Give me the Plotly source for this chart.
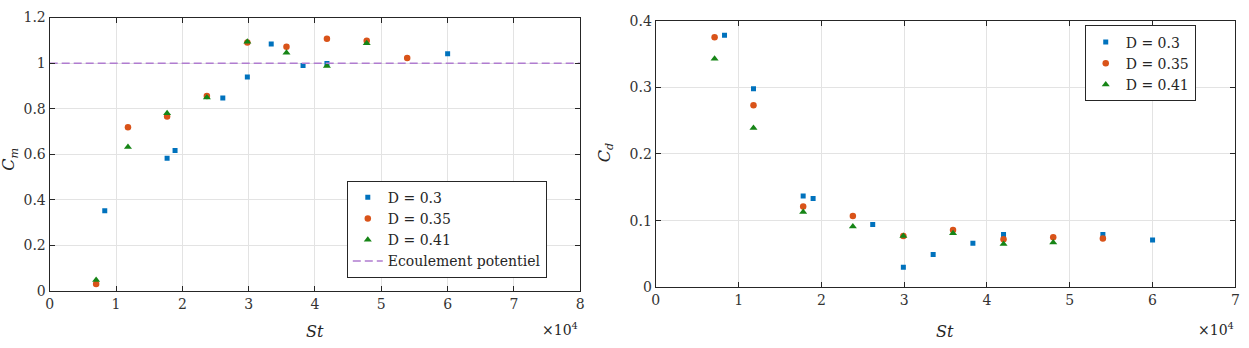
import plotly.graph_objects as go

# ---------------- data ----------------
# St values (real units), scaled by 1e4 on the axes
st_cm_d030 = [8300, 17700, 18900, 26100, 29800, 33400, 38200, 41800, 60000]
cm_d030 = [0.352, 0.583, 0.617, 0.847, 0.939, 1.084, 0.990, 0.998, 1.041]
st_cm_d035 = [7000, 11800, 17700, 23700, 29800, 35700, 41800, 47800, 53900]
cm_d035 = [0.031, 0.719, 0.766, 0.856, 1.091, 1.072, 1.107, 1.098, 1.023]
st_cm_d041 = [7000, 11800, 17700, 23700, 29800, 35700, 41800, 47800]
cm_d041 = [0.049, 0.632, 0.780, 0.849, 1.094, 1.046, 0.987, 1.087]
st_potentiel = [0, 80000]
cm_potentiel = [1, 1]

st_cd_d030 = [8300, 11800, 17800, 19000, 26200, 29900, 33500, 38300, 42000, 54000, 60000]
cd_d030 = [0.378, 0.298, 0.137, 0.133, 0.094, 0.030, 0.049, 0.066, 0.079, 0.079, 0.071]
st_cd_d035 = [7100, 11800, 17800, 23800, 29900, 35900, 42000, 48000, 54000]
cd_d035 = [0.375, 0.273, 0.121, 0.107, 0.077, 0.086, 0.072, 0.075, 0.073]
st_cd_d041 = [7100, 11800, 17800, 23800, 29900, 35900, 42000, 48000]
cd_d041 = [0.343, 0.239, 0.113, 0.091, 0.077, 0.081, 0.065, 0.067]

series_names = ["D = 0.3", "D = 0.35", "D = 0.41"]
line_name = "Ecoulement potentiel"
x_ticks_left = [0, 1, 2, 3, 4, 5, 6, 7, 8]
x_ticks_right = [0, 1, 2, 3, 4, 5, 6, 7]
y_ticks_left = [0, 0.2, 0.4, 0.6, 0.8, 1, 1.2]
y_ticks_right = [0, 0.1, 0.2, 0.3, 0.4]

# ---------------- style ----------------
W, H = 1249, 348
BLUE = "#0072BD"
ORANGE = "#D95319"
GREEN = "#168516"
PURPLE = "#B07CD0"
AX = "#262626"
GRID = "#E3E3E3"
FONT = "DejaVu Serif"

markers = [
    dict(symbol="square", size=5, color=BLUE),
    dict(symbol="circle", size=6.5, color=ORANGE),
    dict(symbol="triangle-up", size=7, color=GREEN),
]

fig = go.Figure()

left = [(st_cm_d030, cm_d030), (st_cm_d035, cm_d035), (st_cm_d041, cm_d041)]
for (xs, ys), name, mk in zip(left, series_names, markers):
    fig.add_trace(go.Scatter(x=xs, y=ys, mode="markers", name=name, marker=mk,
                             xaxis="x", yaxis="y", legend="legend"))
fig.add_trace(go.Scatter(x=st_potentiel, y=cm_potentiel, mode="lines", name=line_name,
                         line=dict(color=PURPLE, width=1.5, dash="8px,4px"),
                         xaxis="x", yaxis="y", legend="legend"))

right = [(st_cd_d030, cd_d030), (st_cd_d035, cd_d035), (st_cd_d041, cd_d041)]
for (xs, ys), name, mk in zip(right, series_names, markers):
    fig.add_trace(go.Scatter(x=xs, y=ys, mode="markers", name=name, marker=mk,
                             xaxis="x2", yaxis="y2", legend="legend2"))


def fmt(v):
    return "%g" % v


axis_common = dict(
    showline=True, linecolor=AX, linewidth=1.3, mirror="ticks",
    ticks="inside", ticklen=5, tickcolor=AX, tickwidth=1.2,
    showgrid=True, gridcolor=GRID, gridwidth=1, zeroline=False,
    tickfont=dict(family=FONT, size=14, color="#333333"),
)

fig.update_layout(
    width=W, height=H, margin=dict(l=0, r=0, t=0, b=0),
    paper_bgcolor="white", plot_bgcolor="white",
    showlegend=True,
    xaxis=dict(domain=[46 / W, 580 / W], range=[0, 80000], anchor="y",
               tickvals=[t * 1e4 for t in x_ticks_left],
               ticktext=[fmt(t) for t in x_ticks_left], **axis_common),
    yaxis=dict(domain=[1 - 296.7 / H, 1 - 10 / H], range=[0, 1.2], anchor="x",
               tickvals=y_ticks_left, ticktext=[fmt(t) for t in y_ticks_left],
               **axis_common),
    xaxis2=dict(domain=[656 / W, 1239.3 / W], range=[0, 70000], anchor="y2",
                tickvals=[t * 1e4 for t in x_ticks_right],
                ticktext=[fmt(t) for t in x_ticks_right], **axis_common),
    yaxis2=dict(domain=[1 - 292.7 / H, 1 - 13.3 / H], range=[0, 0.4], anchor="x2",
                tickvals=y_ticks_right, ticktext=[fmt(t) for t in y_ticks_right],
                **axis_common),
    legend=dict(x=345 / W, y=1 - 181 / H, xanchor="left", yanchor="top",
                bgcolor="white", bordercolor=AX, borderwidth=1,
                font=dict(family=FONT, size=14, color=AX), itemwidth=30,
                tracegroupgap=0),
    legend2=dict(x=1087.7 / W, y=1 - 18.3 / H, xanchor="left", yanchor="top",
                 bgcolor="white", bordercolor=AX, borderwidth=1,
                 font=dict(family=FONT, size=14, color=AX), itemwidth=30,
                 tracegroupgap=0),
)

ann_font = dict(family=FONT, size=16, color=AX)
annotations = [
    dict(text="<i>St</i>", x=313 / W, y=1 - 339 / H, xref="paper", yref="paper",
         xanchor="center", yanchor="middle", showarrow=False, font=ann_font),
    dict(text="<i>St</i>", x=947.5 / W, y=1 - 339 / H, xref="paper", yref="paper",
         xanchor="center", yanchor="middle", showarrow=False, font=ann_font),
    dict(text="×10<sup>4</sup>", x=580 / W, y=1 - 336 / H, xref="paper", yref="paper",
         xanchor="right", yanchor="middle", showarrow=False,
         font=dict(family=FONT, size=14, color=AX)),
    dict(text="×10<sup>4</sup>", x=1240 / W, y=1 - 336 / H, xref="paper", yref="paper",
         xanchor="right", yanchor="middle", showarrow=False,
         font=dict(family=FONT, size=14, color=AX)),
    dict(text="<i>C<sub>m</sub></i>", x=6 / W, y=1 - 158 / H, xref="paper", yref="paper",
         xanchor="center", yanchor="middle", showarrow=False, textangle=-90, font=ann_font),
    dict(text="<i>C<sub>d</sub></i>", x=605 / W, y=1 - 152 / H, xref="paper", yref="paper",
         xanchor="center", yanchor="middle", showarrow=False, textangle=-90, font=ann_font),
]
fig.update_layout(annotations=annotations)

fig.write_html("out.html")
